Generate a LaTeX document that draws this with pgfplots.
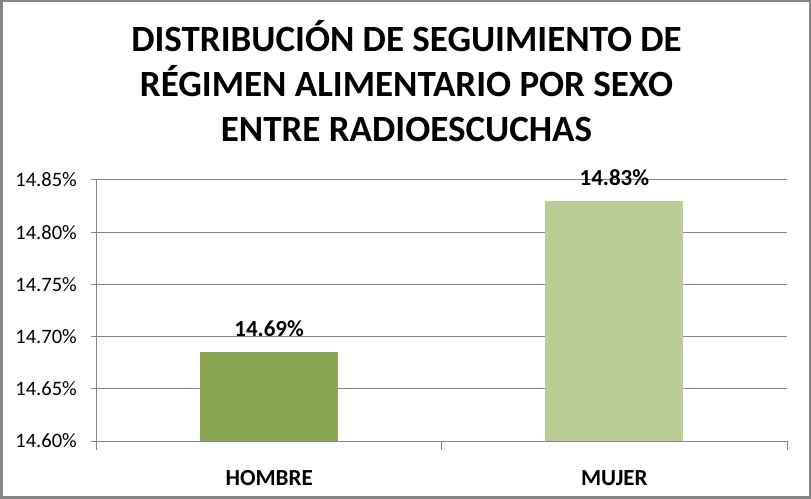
\documentclass[border=0pt]{standalone}
\usepackage{pgfplots}
\pgfplotsset{compat=1.18}
\usepackage{fontspec}
\setmainfont{Carlito}
\definecolor{hom}{HTML}{8BA753}
\definecolor{muj}{HTML}{BCCE98}
\definecolor{axg}{HTML}{868686}
\begin{document}
\begin{tikzpicture}
\draw[axg, line width=2.5bp] (1.25bp,1.25bp) rectangle (809.75bp,497.75bp);
\begin{scope}[every node/.style={anchor=base, inner sep=0pt, font=\fontsize{37bp}{42bp}\selectfont\bfseries}]
\node at (406.5bp,447bp) {DISTRIBUCIÓN DE SEGUIMIENTO DE};
\node at (406.5bp,402bp) {RÉGIMEN ALIMENTARIO POR SEXO};
\node at (406.5bp,357bp) {ENTRE RADIOESCUCHAS};
\end{scope}
\begin{axis}[
  at={(96.5bp,58bp)}, anchor=south west, scale only axis,
  width=690.5bp, height=261bp,
  xmin=-0.5, xmax=1.5, ymin=14.60, ymax=14.85,
  axis x line*=bottom, axis y line*=left,
  axis line style={axg, line width=1bp, -},
  ytick={14.60,14.65,14.70,14.75,14.80,14.85},
  yticklabel={\pgfmathprintnumber[fixed,fixed zerofill,precision=2]{\tick}\%},
  /pgf/number format/assume math mode=true,
  ymajorgrids, grid style={axg, line width=1bp},
  tick align=outside, major tick length=6bp,
  ytick style={axg, line width=1bp},
  xtick={0,1}, xticklabels={HOMBRE,MUJER},
  xtick style={draw=none},
  extra x ticks={-0.5,0.5,1.5}, extra x tick labels={},
  extra x tick style={major tick length=9bp, xtick style={axg, line width=1bp, draw=axg}, grid=none},
  yticklabel style={anchor=east, inner sep=0pt, xshift=-13.5bp, font=\fontsize{20.5bp}{24bp}\selectfont},
  xticklabel style={anchor=north, inner sep=0pt, yshift=-23bp, font=\fontsize{23bp}{26bp}\selectfont\bfseries},
  nodes near coords={\pgfmathprintnumber[fixed,fixed zerofill,precision=2]{\pgfplotspointmeta}\%},
  nodes near coords style={anchor=south, inner sep=0pt, yshift=15bp, font=\fontsize{23bp}{26bp}\selectfont\bfseries, text=black},
]
\addplot[ybar, bar width=138bp, bar shift=0pt, fill=hom, draw=none] coordinates {(0,14.6856)};
\addplot[ybar, bar width=138bp, bar shift=0pt, fill=muj, draw=none] coordinates {(1,14.8298)};
\end{axis}
\end{tikzpicture}
\end{document}
